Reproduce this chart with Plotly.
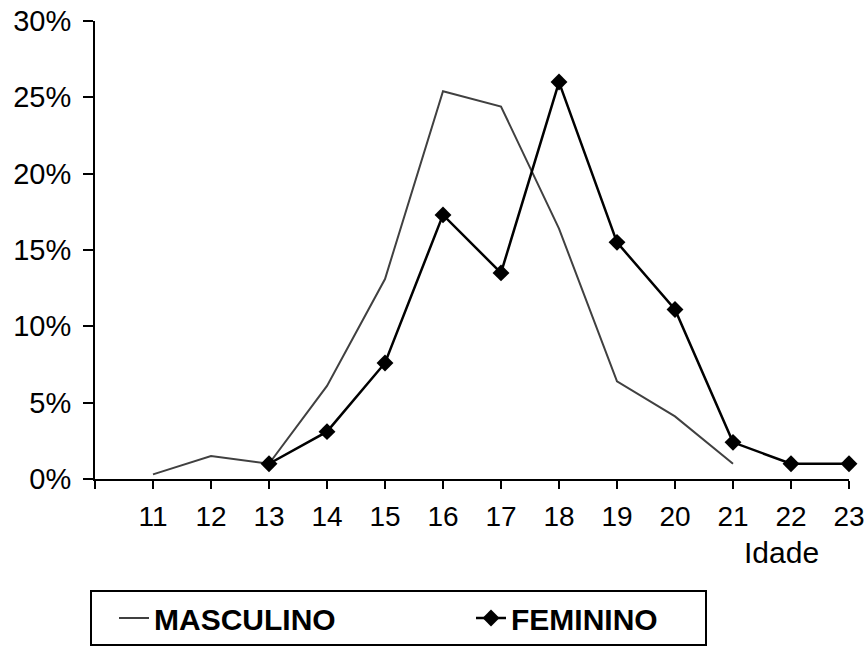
import plotly.graph_objects as go

ages_masc = [11, 12, 13, 14, 15, 16, 17, 18, 19, 20, 21]
masculino = [0.003, 0.015, 0.010, 0.061, 0.131, 0.254, 0.244, 0.164, 0.064, 0.041, 0.010]

ages_fem = [13, 14, 15, 16, 17, 18, 19, 20, 21, 22, 23]
feminino = [0.010, 0.031, 0.076, 0.173, 0.135, 0.260, 0.155, 0.111, 0.024, 0.010, 0.010]

x_ticks = list(range(10, 24))
x_labels = [""] + [str(v) for v in range(11, 24)]

FONT = "Liberation Sans, Arial, sans-serif"
NB = "\u00a0"

fig = go.Figure()
fig.add_trace(go.Scatter(
    x=ages_masc, y=masculino, name="MASCULINO" + NB * 13, mode="lines",
    line=dict(color="#404040", width=2), cliponaxis=False,
))
fig.add_trace(go.Scatter(
    x=ages_fem, y=feminino, name="FEMININO" + NB * 5, mode="lines+markers",
    line=dict(color="black", width=2.5),
    marker=dict(symbol="diamond", size=13, color="black"),
    cliponaxis=False,
))

fig.update_layout(
    width=864, height=652,
    margin=dict(l=95, r=15, t=21, b=173),
    paper_bgcolor="white", plot_bgcolor="white",
    font=dict(family=FONT, color="black", size=28),
    showlegend=True,
    legend=dict(
        orientation="h", xref="container", yref="container",
        x=90 / 864, y=1 - 590 / 652, xanchor="left", yanchor="top",
        bordercolor="black", borderwidth=2, bgcolor="white",
        font=dict(family=FONT, size=30, color="black", weight="bold"),
        indentation=22,
    ),
    xaxis=dict(
        range=[10, 23], tickmode="array", tickvals=x_ticks, ticktext=x_labels,
        showgrid=False, zeroline=False, showline=True, linecolor="black", linewidth=2,
        ticks="outside", ticklen=8, tickwidth=2, tickcolor="black",
        tickfont=dict(size=28), ticklabelstandoff=3, automargin=False,
        ticklabeloverflow="allow",
    ),
    yaxis=dict(
        range=[0, 0.30], tickmode="linear", tick0=0, dtick=0.05, tickformat=".0%",
        showgrid=False, zeroline=False, showline=True, linecolor="black", linewidth=2,
        ticks="outside", ticklen=10, tickwidth=2, tickcolor="black",
        tickfont=dict(size=29), ticklabelstandoff=6, automargin=False,
    ),
    annotations=[dict(
        text="Idade", x=21.84, xref="x", y=0, yref="paper",
        yanchor="middle", xanchor="center", yshift=-73, showarrow=False,
        font=dict(family=FONT, size=30, color="black"),
    )],
)

fig.write_html("out.html")
